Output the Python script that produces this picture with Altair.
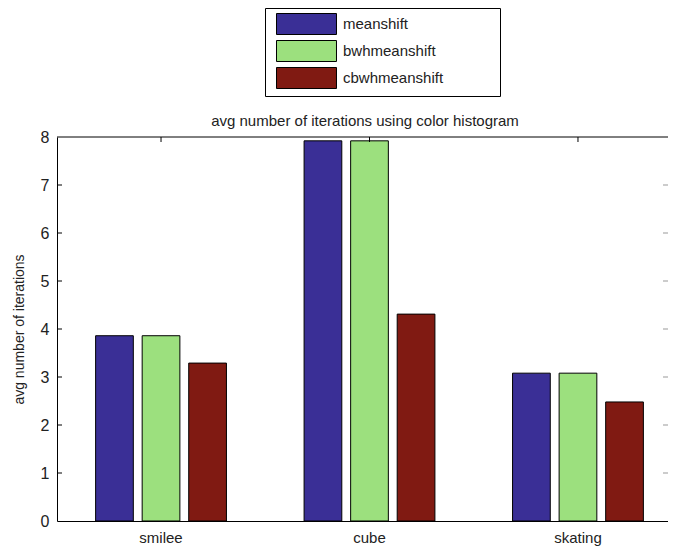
import altair as alt
import pandas as pd

categories = ["smilee", "cube", "skating"]
methods = ["meanshift", "bwhmeanshift", "cbwhmeanshift"]
meanshift = [3.86, 7.92, 3.08]
bwhmeanshift = [3.86, 7.92, 3.08]
cbwhmeanshift = [3.29, 4.31, 2.48]
y_ticks = [0, 1, 2, 3, 4, 5, 6, 7, 8]
colors = ["#3A2F96", "#9CE07E", "#801A12"]

title_text = "avg number of iterations using color histogram"
y_title = "avg number of iterations"

rows = []
for i, c in enumerate(categories):
    for m, vals in zip(methods, [meanshift, bwhmeanshift, cbwhmeanshift]):
        rows.append({"category": c, "method": m, "value": vals[i]})
df = pd.DataFrame(rows)

W = 611
H = 384
FONT = "Liberation Sans"

x_scale = alt.Scale(domain=categories, range=[0, 625], paddingInner=0.33, paddingOuter=0.164)
y_scale = alt.Scale(domain=[0, 8], nice=False)
x_axis = alt.Axis(labelAngle=0, ticks=False, labelFontSize=15, labelPadding=9)
y_axis = alt.Axis(values=y_ticks, ticks=False, labelFontSize=16, labelPadding=8,
                  titleFontSize=14, titleFontWeight="normal", titlePadding=14)

PAD = "\u2002" + "\u2800" * 4

bars = alt.Chart(df).mark_bar(stroke="black", strokeWidth=1, opacity=1).encode(
    x=alt.X("category:N", sort=categories, scale=x_scale, title=None, axis=x_axis),
    xOffset=alt.XOffset("method:N", sort=methods,
                        scale=alt.Scale(domain=methods, paddingInner=0.19, paddingOuter=0.095)),
    y=alt.Y("value:Q", scale=y_scale, title=y_title, axis=y_axis),
    color=alt.Color("method:N", sort=methods,
                    scale=alt.Scale(domain=methods, range=colors),
                    legend=alt.Legend(title=None, orient="none", legendX=208, legendY=-129,
                                      symbolType="M-1,-1L4.714,-1L4.714,1L-1,1Z",
                                      symbolSize=441, symbolStrokeColor="black",
                                      symbolStrokeWidth=1, symbolOpacity=1, symbolOffset=6,
                                      labelFontSize=15, labelFont=FONT, labelColor="#222",
                                      labelOffset=45, rowPadding=1, padding=5,
                                      labelExpr="datum.label + '" + PAD + "'",
                                      strokeColor="black", fillColor="white")),
)

tick_df = pd.DataFrame({"value": y_ticks[1:-1]})
left_ticks = alt.Chart(tick_df).mark_rule(color="black", strokeWidth=1).encode(
    y=alt.Y("value:Q", scale=y_scale, title=y_title, axis=y_axis),
    x=alt.value(0), x2=alt.value(5),
)
right_ticks = alt.Chart(tick_df).mark_rule(color="#999", strokeWidth=1).encode(
    y=alt.Y("value:Q", scale=y_scale, title=y_title, axis=y_axis),
    x=alt.value(W - 5), x2=alt.value(W),
)

cat_df = pd.DataFrame({"category": categories})
top_ticks = alt.Chart(cat_df).mark_rule(color="black", strokeWidth=1).encode(
    x=alt.X("category:N", sort=categories, scale=x_scale, title=None, axis=x_axis),
    y=alt.value(0), y2=alt.value(5),
)

top_spine = alt.Chart(pd.DataFrame({"a": [0]})).mark_rule(color="black", strokeWidth=1).encode(
    x=alt.value(0), x2=alt.value(W), y=alt.value(0),
)

title_mark = alt.Chart(pd.DataFrame({"t": [title_text]})).mark_text(
    font=FONT, fontSize=15, color="#222", baseline="alphabetic", align="center",
).encode(text="t:N", x=alt.value(308), y=alt.value(-11))

chart = alt.layer(bars, left_ticks, right_ticks, top_ticks, top_spine, title_mark).properties(
    width=W, height=H,
    autosize=alt.AutoSizeParams(type="none"),
    padding={"left": 49, "top": 129, "right": 0, "bottom": 26},
).configure_view(stroke=None).configure_axis(
    grid=False, domainColor="black", domainWidth=1,
    labelFont=FONT, titleFont=FONT, labelColor="#222", titleColor="#222",
)

chart.save("out.html", embed_options={"renderer": "svg", "actions": False})
